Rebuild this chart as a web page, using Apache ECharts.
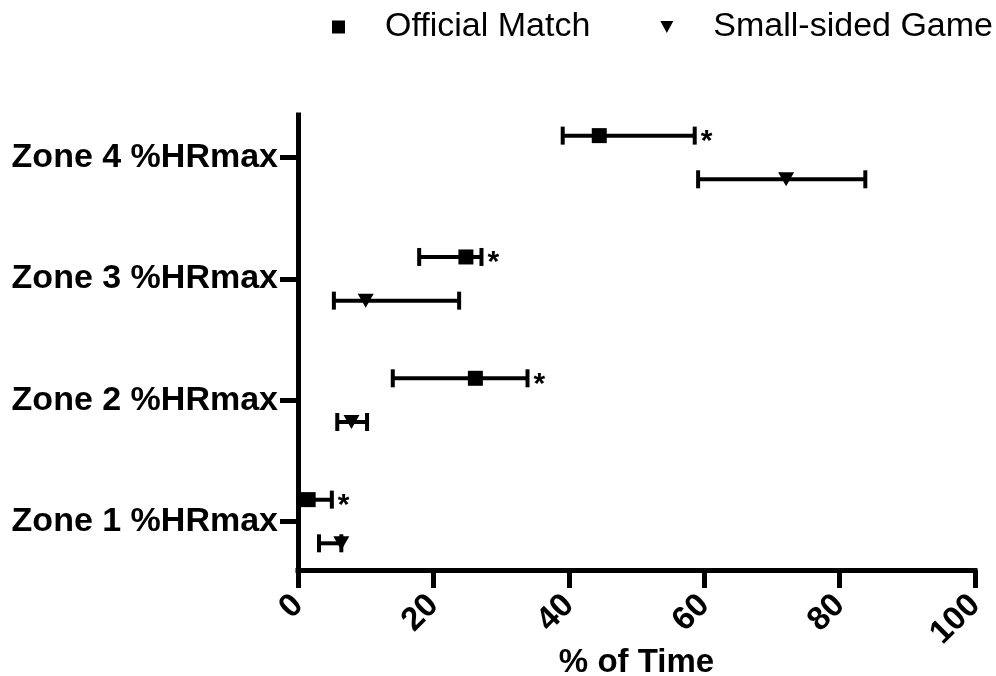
<!DOCTYPE html>
<html>
<head>
<meta charset="utf-8">
<script src="https://cdn.jsdelivr.net/npm/echarts@6/dist/echarts.min.js"></script>
<style>
  html, body { margin: 0; padding: 0; background: #fff; }
  #chart { width: 996px; height: 676px; }
</style>
</head>
<body>
<div id="chart"></div>
<script>
// values (% of time)
const zones = ['Zone 1 %HRmax', 'Zone 2 %HRmax', 'Zone 3 %HRmax', 'Zone 4 %HRmax'];
const omMean = [1.5, 26.2, 24.8, 44.5];
const omLow = [0, 14.0, 17.9, 39.1];
const omHigh = [5.0, 33.9, 27.1, 58.6];
const ssgMean = [6.4, 7.9, 10.0, 72.1];
const ssgLow = [3.1, 5.8, 5.3, 59.1];
const ssgHigh = [6.4, 10.2, 23.8, 83.8];
const starred = [true, true, true, true];
const xTicks = [0, 20, 40, 60, 80, 100];

// vertical offset of each group inside a zone (axis units)
const omShift = 0.18;
const ssgShift = -0.18;
const zonePos = zones.map((z, i) => i + 1);

const triPath = 'path://M0,0 L12,0 L6,11 Z';
const font = 'Liberation Sans, Arial, Helvetica, sans-serif';

function barData(mean, low, high, shift, stars) {
    return zonePos.map((p, i) => [low[i], high[i], p + shift, stars ? (stars[i] ? 1 : 0) : 0]);
}

function renderBar(params, api) {
    const y = api.value(2);
    const a = api.coord([api.value(0), y]);
    const b = api.coord([api.value(1), y]);
    const cap = 9;
    const style = { stroke: '#000', lineWidth: 4 };
    const children = [
        { type: 'line', shape: { x1: a[0], y1: a[1], x2: b[0], y2: b[1] }, style: style },
        { type: 'line', shape: { x1: a[0], y1: a[1] - cap, x2: a[0], y2: a[1] + cap }, style: style },
        { type: 'line', shape: { x1: b[0], y1: b[1] - cap, x2: b[0], y2: b[1] + cap }, style: style }
    ];
    if (api.value(3)) {
        children.push({
            type: 'text',
            style: {
                x: b[0] + 6, y: b[1] + 6, text: '*',
                font: 'bold 30px ' + font, fill: '#000',
                textVerticalAlign: 'middle'
            }
        });
    }
    return { type: 'group', children: children };
}

const chart = echarts.init(document.getElementById('chart'));
chart.setOption({
    animation: false,
    backgroundColor: '#fff',
    textStyle: { fontFamily: font, color: '#000' },
    grid: { left: 298, right: 21, top: 115, bottom: 106, outerBoundsMode: 'none', containLabel: false },
    legend: {
        top: 5,
        left: 327,
        width: 700,
        itemGap: 70,
        itemWidth: 13,
        itemHeight: 13,
        textStyle: { fontSize: 34, color: '#000', fontFamily: font, padding: [0, 0, 0, 35] },
        data: [
            { name: 'Official Match', icon: 'rect', itemStyle: { color: '#000' } },
            { name: 'Small-sided Game', icon: triPath, itemStyle: { color: '#000' } }
        ]
    },
    xAxis: {
        type: 'value',
        min: 0,
        max: 100,
        interval: 20,
        name: '% of Time',
        nameLocation: 'middle',
        nameGap: 76,
        nameMoveOverlap: false,
        nameTextStyle: { fontSize: 33, fontWeight: 'bold', color: '#000' },
        axisLine: { lineStyle: { color: '#000', width: 5, cap: 'square' } },
        axisTick: { length: 18, lineStyle: { color: '#000', width: 5 } },
        axisLabel: {
            rotate: 45, margin: 30, fontSize: 33, fontWeight: 'bold', color: '#000',
            customValues: xTicks, showMinLabel: true, showMaxLabel: true
        },
        splitLine: { show: false }
    },
    yAxis: {
        type: 'value',
        min: 0.6,
        max: 4.35,
        axisLine: { show: true, lineStyle: { color: '#000', width: 5, cap: 'square' } },
        axisTick: { show: true, customValues: zonePos, length: 18, lineStyle: { color: '#000', width: 5 } },
        axisLabel: {
            customValues: zonePos, margin: 20, fontSize: 34, fontWeight: 'bold', color: '#000',
            formatter: v => zones[Math.round(v) - 1]
        },
        splitLine: { show: false }
    },
    series: [
        {
            name: 'Official Match',
            type: 'custom',
            renderItem: renderBar,
            data: barData(omMean, omLow, omHigh, omShift, starred),
            itemStyle: { color: '#000' },
            z: 1,
            silent: true
        },
        {
            name: 'Small-sided Game',
            type: 'custom',
            renderItem: renderBar,
            data: barData(ssgMean, ssgLow, ssgHigh, ssgShift, null),
            itemStyle: { color: '#000' },
            z: 1,
            silent: true
        },
        {
            name: 'Official Match',
            type: 'scatter',
            symbol: 'rect',
            symbolSize: 15,
            itemStyle: { color: '#000', opacity: 1 },
            data: zonePos.map((p, i) => [omMean[i], p + omShift]),
            z: 3
        },
        {
            name: 'Small-sided Game',
            type: 'scatter',
            symbol: triPath,
            symbolSize: [16, 14],
            itemStyle: { color: '#000', opacity: 1 },
            data: zonePos.map((p, i) => [ssgMean[i], p + ssgShift]),
            z: 3
        }
    ]
});
</script>
</body>
</html>
